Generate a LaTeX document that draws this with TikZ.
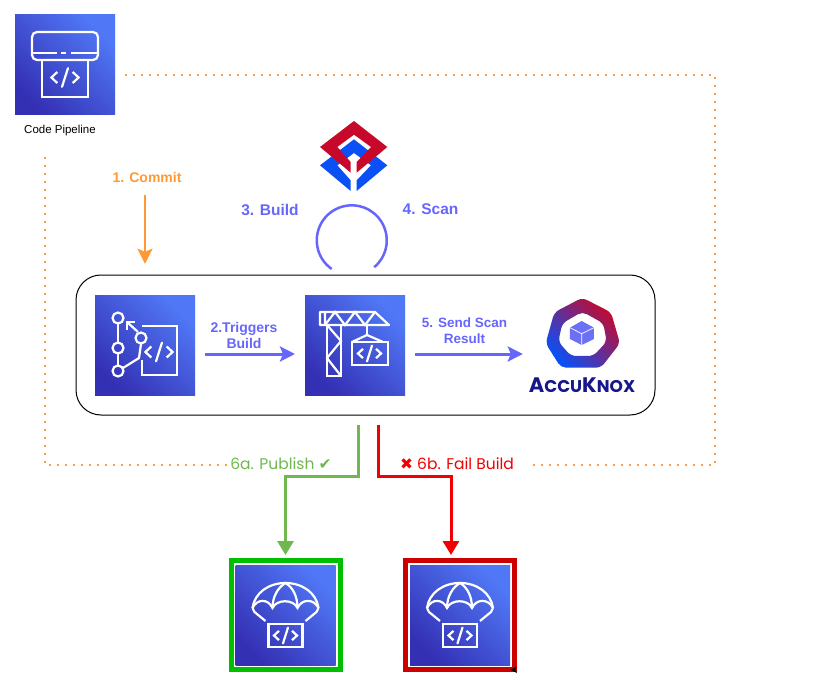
\documentclass[tikz,border=0pt]{standalone}
\usepackage{xcolor}
\usepackage{fontspec}
\setmainfont{Liberation Sans}
\newfontfamily\poppinsfont{Poppins}
\newfontfamily\symbolfont{DejaVu Sans}
\usetikzlibrary{arrows.meta}

\definecolor{iconlow}{HTML}{3430B4}
\definecolor{iconhigh}{HTML}{5078F6}
\definecolor{flowblue}{HTML}{6666FF}
\definecolor{flowdot}{HTML}{FFA040}
\definecolor{floworange}{HTML}{FF9933}
\definecolor{pubgreen}{HTML}{6EB84E}
\definecolor{failred}{HTML}{F00000}
\definecolor{logored}{HTML}{C8082A}
\definecolor{logoblue}{HTML}{0A50F5}
\definecolor{logonavy}{HTML}{15178A}
\definecolor{cubeblue}{HTML}{6C70F4}

\tikzset{
  iconbox/.style={minimum size=100pt, inner sep=0pt, outer sep=0pt, shade, left color=iconlow, right color=iconhigh, shading angle=135},
  iconline/.style={draw=white, line width=2.2pt},
  flowarrow/.style={draw=flowblue, line width=3pt, -{Stealth[length=15pt,width=15pt,inset=3pt]}},
  publine/.style={line width=3pt, -{Triangle[length=14pt,width=16pt]}},
  dotline/.style={draw=flowdot, line width=1.8pt, dash pattern=on 1.8pt off 6.2pt},
  flowlabel/.style={text=flowblue, font=\bfseries\fontsize{14}{16}\selectfont, align=center},
  publabel/.style={font=\poppinsfont\fontsize{15.5}{17}\selectfont, inner sep=3pt}
}

% < / > drawn at a centre point
\newcommand{\codeglyph}[3]{
  \begin{scope}[shift={(#1,#2)}, scale=#3]
    \draw[iconline] (-9,-6.5) -- (-16,0) -- (-9,6.5);
    \draw[iconline] (9,-6.5) -- (16,0) -- (9,6.5);
    \draw[iconline, line cap=round] (3.5,-11) -- (-3.5,11);
  \end{scope}
}

% the parachute drawn in a 100 square
\newcommand{\parachute}[2]{
  \begin{scope}[shift={(#1,#2)}]
    \draw[iconline, line join=round] (17,43) .. controls (19,28) and (33,18) .. (50,18) .. controls (67,18) and (81,28) .. (83,43);
    \draw[iconline] (17,43) .. controls (22,33) and (33,34) .. (37,43) .. controls (41,34) and (58,34) .. (62,43) .. controls (66,34) and (78,33) .. (83,43);
    \draw[iconline] (37,43) .. controls (37,31) and (43,22) .. (50,18) .. controls (57,22) and (62,31) .. (62,43);
    \draw[iconline] (17,43) -- (19,47) -- (30,56);
    \draw[iconline] (83,43) -- (81,47) -- (70,56);
    \draw[iconline] (33,59) rectangle (67,82);
    \codeglyph{50}{70.5}{0.72}
  \end{scope}
}

\begin{document}
\begin{tikzpicture}[x=1pt, y=-1pt]
\useasboundingbox (0,0) rectangle (839,690);

% Icons
\node[iconbox] (pipeline) at (65,65) {};
\node[below=0pt] (pipelinelabel) at (60,122) {\fontsize{11.5}{13}\selectfont Code Pipeline};
\draw[draw=black, line width=1pt, rounded corners=25pt] (76,275) rectangle (655,415);
\node[minimum width=579pt, minimum height=140pt, inner sep=0pt] (flowbox) at (365.5,345) {};
\node[iconbox] (repo) at (145,345) {};
\node[iconbox] (builder) at (355,345) {};
\node[minimum width=118pt, minimum height=100pt, inner sep=0pt] (accuknox) at (582,350) {};

% Artifact boxes
\node[draw=green!75!black, line width=5pt, minimum size=109pt, inner sep=0pt] (artifactok) at (285.5,615) {};
\node[iconbox] (okicon) at (285.5,615) {};
\node[draw=red!80!black, line width=5pt, minimum size=109pt, inner sep=0pt] (artifactfail) at (460,615) {};
\node[iconbox] (failicon) at (460,615) {};
\fill[black] (510,669.5) -- (517,667) -- (515,670) -- (517,673) -- cycle;

% Code pipeline icon
\begin{scope}[shift={(15,15)}]
  \draw[iconline, rounded corners=5pt] (17,45) -- (17,17) -- (83,17) -- (83,45) -- cycle;
  \draw[iconline] (17,38) -- (42,38) (46,38) -- (51,38) (56,38) -- (83,38);
  \draw[iconline] (27,45) rectangle (73,82);
  \codeglyph{50}{62.5}{0.85}
\end{scope}

% Branch icon
\begin{scope}[shift={(95,295)}]
  \draw[iconline] (23,23) circle (5.5) (23,53) circle (5.5) (23,76) circle (5.5) (46,43) circle (5.5);
  \draw[iconline] (23,28.5) -- (23,47.5) (23,58.5) -- (23,70.5);
  \draw[iconline] (28,73) -- (44,63) -- (46,49);
  \draw[iconline] (43,37) -- (32,27);
  \draw[iconline] (32,35) -- (32,27) -- (40,27);
  \draw[iconline] (47,31) -- (82,31) -- (82,80) -- (47,80) -- (47,65);
  \codeglyph{64}{57}{0.85}
\end{scope}

% Crane icon
\begin{scope}[shift={(305,295)}]
  \draw[iconline, line join=round] (15,17) -- (70,17) -- (84,30) -- (15,30) -- cycle;
  \draw[iconline] (20,17) -- (20,30) (20,30) -- (30,17) -- (40,30) -- (50,17) -- (60,30) -- (70,17);
  \draw[iconline] (22,30) -- (22,81) -- (36,81) -- (36,30);
  \draw[iconline] (22,30) -- (36,46) -- (22,63) -- (36,81);
  \draw[iconline] (62,30) -- (62,40);
  \draw[iconline] (47,47) -- (62,40) -- (78,47);
  \draw[iconline] (47,47) rectangle (83,70);
  \codeglyph{64.5}{58.5}{0.72}
\end{scope}

% Parachutes
\parachute{235.5}{565}
\parachute{410}{565}

% Scanner logo
\begin{scope}[shift={(310,112)}, scale=0.3333]
  \fill[logoblue] (132,82) -- (232,160) -- (140,237) -- (140,205) -- (183,160) -- (132,123) -- (82,160) -- (122,205) -- (122,237) -- (30,160) -- cycle;
  \fill[logored] (132,27) -- (232,105) -- (140,182) -- (140,150) -- (183,105) -- (132,68) -- (82,105) -- (122,150) -- (122,182) -- (30,105) -- cycle;
\end{scope}

% AccuKnox logo
\begin{scope}[shift={(525,295)}, scale=0.3333]
  \path[even odd rule, rounded corners=5pt, shade, left color=logoblue, right color=logored, shading angle=135]
    (172,8) -- (258,52) -- (285,145) -- (228,218) -- (108,218) -- (62,145) -- (88,52) -- cycle
    (172,50) -- (235,85) -- (245,140) -- (205,183) -- (138,183) -- (100,140) -- (112,85) -- cycle;
  \fill[cubeblue] (170,78) -- (207,98) -- (207,132) -- (170,150) -- (135,132) -- (135,98) -- cycle;
  \draw[white, line width=0.7pt] (135,98) -- (170,116) -- (207,98) (170,116) -- (170,150);
\end{scope}
\node[text=logonavy, inner sep=0pt] (accuknoxtext) at (582,385) {\poppinsfont\bfseries\fontsize{21}{21}\selectfont A\fontsize{17}{21}\selectfont CCU\fontsize{21}{21}\selectfont K\fontsize{17}{21}\selectfont NOX};

% Labels
\node[text=floworange, font=\bfseries\fontsize{14}{16}\selectfont] (commitlabel) at (147,177) {1. Commit};
\node[flowlabel, font=\bfseries\fontsize{15.5}{17}\selectfont] (buildlabel) at (270,210) {3. Build};
\node[flowlabel, font=\bfseries\fontsize{15.5}{17}\selectfont] (scanlabel) at (430.5,209) {4. Scan};
\node[flowlabel] (triggerlabel) at (244,335) {2.Triggers\\Build};
\node[flowlabel, font=\bfseries\fontsize{13.5}{16}\selectfont] (sendlabel) at (464.5,330.5) {5. Send Scan\\Result};
\node[publabel, text=pubgreen] (publabel) at (281,464) {6a. Publish {\symbolfont\bfseries ✔}};
\node[publabel, text=failred] (faillabel) at (457,464) {{\symbolfont\bfseries ✖} 6b. Fail Build};

% Dotted pipeline loop
\coordinate (loopa) at (125,75);
\coordinate (loopb) at (715,75);
\coordinate (loopc) at (715,465);
\coordinate (loopd) at (45,465);
\coordinate (loope) at (45,152);
\draw[dotline, shorten >=10pt] (loopa) -- (loopb) -- (loopc) -- (faillabel.east |- loopc);
\draw[dotline] (publabel.west |- loopd) -- (loopd) -- (loope);

% Arrows
\coordinate (commitstart) at (145,195);
\draw[draw=floworange, line width=2.5pt, -{Stealth[length=15pt,width=15pt,inset=3pt]}, shorten >=11pt] (commitstart) -- (commitstart |- flowbox.north);
\draw[flowarrow, shorten >=10pt, shorten <=10pt] ([yshift=-9pt]repo.east) -- ([yshift=-9pt]builder.west);
\draw[flowarrow, shorten <=10pt] ([yshift=-9pt]builder.east) -- (accuknox.west |- 0,354);

% Scan loop
\coordinate (loopstart) at (331.7,269);
\draw[draw=flowblue, line width=2.5pt] (loopstart) arc[start angle=125, end angle=410, radius=35];

% Publish and fail
\coordinate (pubstart) at (358,425);
\coordinate (pubbend) at (358,476);
\coordinate (failstart) at (378,425);
\coordinate (failbend) at (378,476);
\draw[publine, draw=pubgreen] (pubstart) -- (pubbend) -- (pubbend -| artifactok.north) -- ([yshift=3pt]artifactok.north);
\draw[publine, draw=failred] (failstart) -- (failbend) -- (failbend -| 451,0) -- (451,555);

\end{tikzpicture}
\end{document}
